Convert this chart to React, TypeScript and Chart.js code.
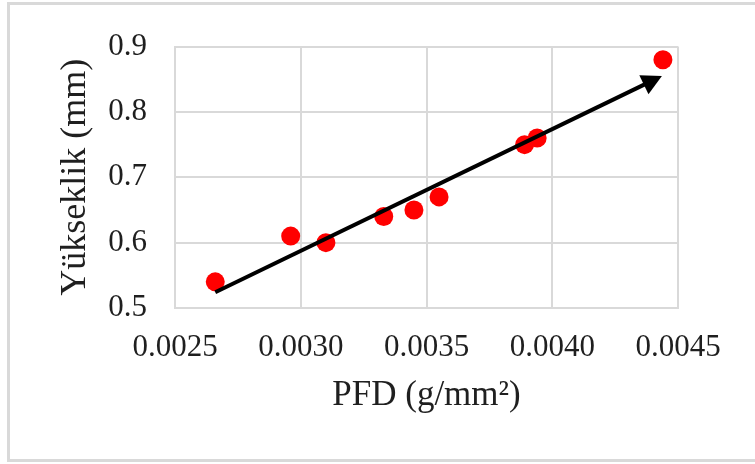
import React, { useEffect, useRef } from "react";
import { Chart, registerables } from "chart.js";

Chart.register(...registerables);

// PFD (g/mm²) values
const pfd = [0.00266, 0.00296, 0.0031, 0.00333, 0.00345, 0.00355, 0.00389, 0.00394, 0.00444];
// Yükseklik (mm) values
const yukseklik = [0.54, 0.61, 0.6, 0.64, 0.65, 0.67, 0.75, 0.76, 0.88];

// Trend arrow start / tip (data coordinates)
const arrowX = [0.00266, 0.004436];
const arrowY = [0.524, 0.855];

const xTickValues = [0.0025, 0.003, 0.0035, 0.004, 0.0045];
const xTickLabels = ["0.0025", "0.0030", "0.0035", "0.0040", "0.0045"];
const yTickValues = [0.5, 0.6, 0.7, 0.8, 0.9];
const yTickLabels = ["0.5", "0.6", "0.7", "0.8", "0.9"];

const xTitle = "PFD (g/mm²)";
const yTitle = "Yükseklik (mm)";

const FONT = "'Liberation Serif', 'Times New Roman', serif";
const GRID = "#d9d9d9";
const TEXT = "#1f1f1f";

const arrowPlugin = {
  id: "trendArrow",
  afterDatasetsDraw(chart: any) {
    const xs = chart.scales.x;
    const ys = chart.scales.y;
    const ctx = chart.ctx;
    const x0 = xs.getPixelForValue(arrowX[0]);
    const y0 = ys.getPixelForValue(arrowY[0]);
    const x1 = xs.getPixelForValue(arrowX[1]);
    const y1 = ys.getPixelForValue(arrowY[1]);
    const ang = Math.atan2(y1 - y0, x1 - x0);
    const headLen = 20;
    const headHalf = 10.5;
    const bx = x1 - headLen * Math.cos(ang);
    const by = y1 - headLen * Math.sin(ang);
    ctx.save();
    ctx.strokeStyle = "#000";
    ctx.fillStyle = "#000";
    ctx.lineWidth = 4;
    ctx.lineCap = "butt";
    ctx.beginPath();
    ctx.moveTo(x0, y0);
    ctx.lineTo(bx + 2 * Math.cos(ang), by + 2 * Math.sin(ang));
    ctx.stroke();
    ctx.beginPath();
    ctx.moveTo(x1, y1);
    ctx.lineTo(bx - headHalf * Math.sin(ang), by + headHalf * Math.cos(ang));
    ctx.lineTo(bx + headHalf * Math.sin(ang), by - headHalf * Math.cos(ang));
    ctx.closePath();
    ctx.fill();
    ctx.restore();
  },
};

export default function App() {
  const ref = useRef<HTMLCanvasElement | null>(null);

  useEffect(() => {
    if (!ref.current) return;
    const chart = new Chart(ref.current, {
      type: "scatter",
      data: {
        datasets: [
          {
            data: pfd.map((x, i) => ({ x, y: yukseklik[i] })),
            backgroundColor: "#ff0000",
            borderWidth: 0,
            pointRadius: 9.5,
            pointHoverRadius: 9.5,
            showLine: false,
          },
        ],
      },
      plugins: [arrowPlugin],
      options: {
        animation: false,
        responsive: true,
        maintainAspectRatio: false,
        events: [],
        layout: { padding: { top: 43, right: 77, left: 0, bottom: 0 } },
        plugins: {
          legend: { display: false },
          tooltip: { enabled: false },
        },
        scales: {
          x: {
            type: "linear",
            min: 0.0025,
            max: 0.0045,
            afterBuildTicks: (s: any) => {
              s.ticks = xTickValues.map((v) => ({ value: v }));
            },
            afterFit: (s: any) => {
              s.height = 156;
            },
            ticks: {
              padding: 21,
              color: TEXT,
              font: { family: FONT, size: 31 },
              maxRotation: 0,
              autoSkip: false,
              callback: (_v: any, i: number) => xTickLabels[i],
            },
            grid: { color: GRID, lineWidth: 2, drawTicks: false },
            border: { display: true, color: GRID, width: 2 },
            title: {
              display: true,
              text: xTitle,
              color: TEXT,
              font: { family: FONT, size: 35 },
              padding: { top: 0, bottom: 47 },
            },
          },
          y: {
            type: "linear",
            min: 0.5,
            max: 0.9,
            afterBuildTicks: (s: any) => {
              s.ticks = yTickValues.map((v) => ({ value: v }));
            },
            afterFit: (s: any) => {
              s.width = 175;
            },
            ticks: {
              padding: 28,
              color: TEXT,
              font: { family: FONT, size: 31 },
              autoSkip: false,
              callback: (_v: any, i: number) => yTickLabels[i],
            },
            grid: { color: GRID, lineWidth: 2, drawTicks: false },
            border: { display: true, color: GRID, width: 2 },
            title: {
              display: true,
              text: yTitle,
              color: TEXT,
              font: { family: FONT, size: 36 },
              padding: { top: 54, bottom: 0 },
            },
          },
        },
      },
    });
    return () => chart.destroy();
  }, []);

  return (
    <div style={{ position: "absolute", left: 0, top: 0, width: 755, height: 464, background: "#fff", overflow: "hidden" }}>
      <div
        style={{
          position: "absolute",
          left: 7,
          top: 2,
          width: 748,
          height: 460,
          boxSizing: "border-box",
          borderTop: `3px solid ${GRID}`,
          borderLeft: `3px solid ${GRID}`,
          borderBottom: `3px solid ${GRID}`,
        }}
      />
      <canvas ref={ref} style={{ position: "absolute", left: 0, top: 0, width: 755, height: 464 }} />
    </div>
  );
}
